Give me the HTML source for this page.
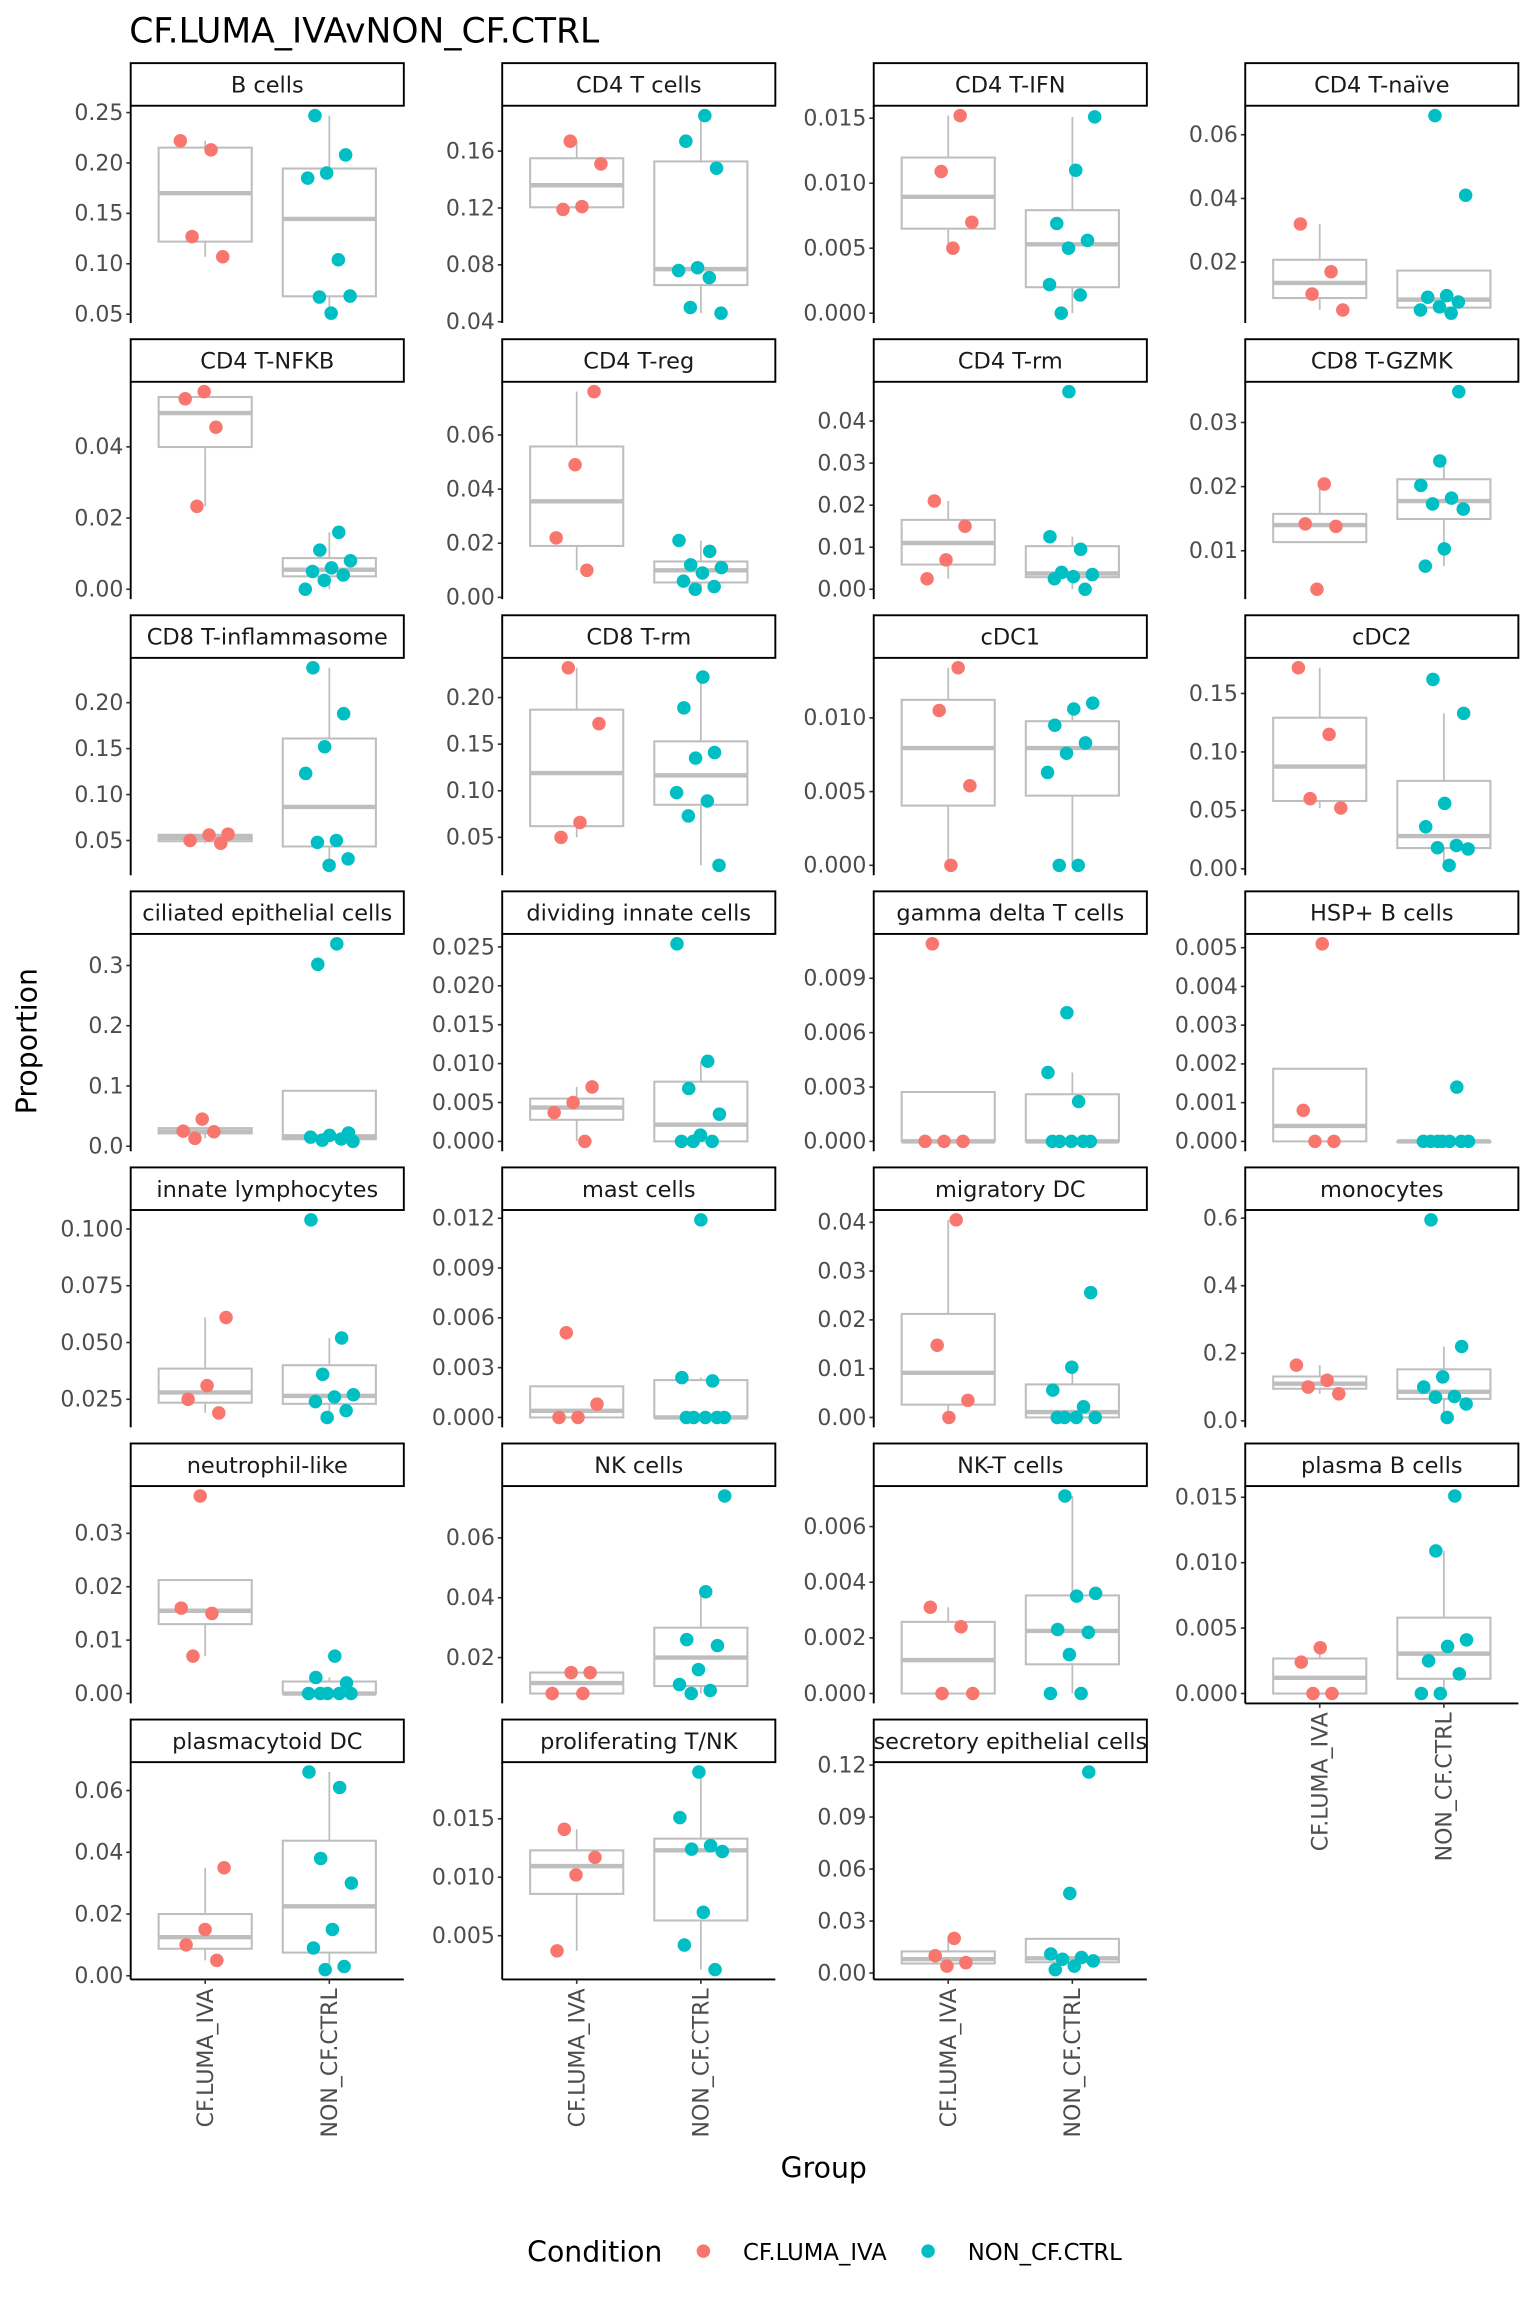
<!DOCTYPE html>
<html><head><meta charset="utf-8">
<style>
html,body{margin:0;padding:0;background:#fff;}
svg{display:block;font-family:"DejaVu Sans","Liberation Sans",sans-serif;}
</style></head>
<body>
<svg id="chart" width="1536" height="2304" viewBox="0 0 1046 1569" xmlns="http://www.w3.org/2000/svg">
<rect x="0" y="0" width="1046" height="1569" fill="#fff"/>
<text x="88" y="29" font-size="23.5" fill="#000">CF.LUMA_IVAvNON_CF.CTRL</text>
<text transform="translate(25,709) rotate(-90)" text-anchor="middle" font-size="19.3" fill="#000">Proportion</text>
<text x="561" y="1483" text-anchor="middle" font-size="19.3" fill="#000">Group</text>
<g>
<text x="359" y="1540" font-size="19.3" fill="#000">Condition</text>
<circle cx="479" cy="1533" r="4.6" fill="#F8766D"/>
<text x="506" y="1539" font-size="15.5" fill="#000">CF.LUMA_IVA</text>
<circle cx="632" cy="1533" r="4.6" fill="#00BFC4"/>
<text x="659" y="1539" font-size="15.5" fill="#000">NON_CF.CTRL</text>
</g>
<g id="panels"></g>
</svg>
<script>
const panelNames = ["B cells","CD4 T cells","CD4 T-IFN","CD4 T-naïve","CD4 T-NFKB","CD4 T-reg","CD4 T-rm","CD8 T-GZMK","CD8 T-inflammasome","CD8 T-rm","cDC1","cDC2","ciliated epithelial cells","dividing innate cells","gamma delta T cells","HSP+ B cells","innate lymphocytes","mast cells","migratory DC","monocytes","neutrophil-like","NK cells","NK-T cells","plasma B cells","plasmacytoid DC","proliferating T/NK","secretory epithelial cells"];
const groups = ["CF.LUMA_IVA","NON_CF.CTRL"];
const cfValues = [
[0.222,0.213,0.127,0.107],
[0.167,0.151,0.121,0.119],
[0.0152,0.0109,0.0070,0.0050],
[0.032,0.017,0.010,0.005],
[0.0555,0.0535,0.0455,0.0233],
[0.076,0.049,0.022,0.010],
[0.021,0.015,0.007,0.0025],
[0.0204,0.0142,0.0138,0.0040],
[0.057,0.056,0.050,0.047],
[0.232,0.172,0.066,0.050],
[0.0134,0.0105,0.0054,0.0000],
[0.172,0.115,0.060,0.052],
[0.045,0.025,0.024,0.013],
[0.0070,0.0050,0.0037,0.0000],
[0.0109,0,0,0],
[0.0051,0.0008,0,0],
[0.061,0.031,0.025,0.019],
[0.0051,0.0008,0,0],
[0.0405,0.0148,0.0035,0.0000],
[0.165,0.120,0.100,0.080],
[0.037,0.016,0.015,0.007],
[0.015,0.015,0.008,0.008],
[0.0031,0.0024,0,0],
[0.0035,0.0024,0,0],
[0.035,0.015,0.010,0.005],
[0.0141,0.0117,0.0102,0.0037],
[0.020,0.010,0.006,0.004]
];
const nonValues = [
[0.247,0.208,0.190,0.185,0.104,0.067,0.068,0.051],
[0.185,0.167,0.148,0.078,0.076,0.071,0.050,0.046],
[0.0151,0.0110,0.0069,0.0056,0.0050,0.0022,0.0014,0.0000],
[0.066,0.041,0.0095,0.009,0.0075,0.006,0.005,0.004],
[0.016,0.011,0.008,0.006,0.005,0.004,0.0025,0.000],
[0.021,0.017,0.012,0.011,0.009,0.006,0.004,0.003],
[0.047,0.0125,0.0095,0.004,0.0035,0.003,0.0025,0.000],
[0.0348,0.0240,0.0202,0.0182,0.0173,0.0165,0.0103,0.0076],
[0.238,0.188,0.152,0.123,0.050,0.048,0.030,0.023],
[0.222,0.189,0.141,0.135,0.098,0.089,0.073,0.020],
[0.0110,0.0106,0.0095,0.0083,0.0076,0.0063,0.0000,0.0000],
[0.162,0.133,0.056,0.036,0.020,0.018,0.017,0.003],
[0.336,0.302,0.022,0.018,0.015,0.012,0.010,0.008],
[0.0254,0.0103,0.0068,0.0035,0.0008,0.0000,0.0000,0.0000],
[0.0071,0.0038,0.0022,0,0,0,0,0],
[0.0014,0,0,0,0,0,0,0],
[0.104,0.052,0.036,0.027,0.026,0.024,0.020,0.017],
[0.0119,0.0024,0.0022,0,0,0,0,0],
[0.0256,0.0103,0.0056,0.0022,0,0,0,0],
[0.595,0.220,0.130,0.100,0.072,0.070,0.050,0.010],
[0.007,0.003,0.002,0,0,0,0,0],
[0.074,0.042,0.026,0.024,0.016,0.011,0.009,0.008],
[0.0071,0.0036,0.0035,0.0023,0.0022,0.0014,0,0],
[0.0151,0.0109,0.0041,0.0036,0.0025,0.0015,0,0],
[0.066,0.061,0.038,0.030,0.015,0.009,0.003,0.002],
[0.0190,0.0151,0.0127,0.0124,0.0122,0.0070,0.0042,0.0021],
[0.116,0.046,0.011,0.009,0.008,0.007,0.004,0.002]
];
const tickLabels = [
["0.05","0.10","0.15","0.20","0.25"],
["0.04","0.08","0.12","0.16"],
["0.000","0.005","0.010","0.015"],
["0.02","0.04","0.06"],
["0.00","0.02","0.04"],
["0.00","0.02","0.04","0.06"],
["0.00","0.01","0.02","0.03","0.04"],
["0.01","0.02","0.03"],
["0.05","0.10","0.15","0.20"],
["0.05","0.10","0.15","0.20"],
["0.000","0.005","0.010"],
["0.00","0.05","0.10","0.15"],
["0.0","0.1","0.2","0.3"],
["0.000","0.005","0.010","0.015","0.020","0.025"],
["0.000","0.003","0.006","0.009"],
["0.000","0.001","0.002","0.003","0.004","0.005"],
["0.025","0.050","0.075","0.100"],
["0.000","0.003","0.006","0.009","0.012"],
["0.00","0.01","0.02","0.03","0.04"],
["0.0","0.2","0.4","0.6"],
["0.00","0.01","0.02","0.03"],
["0.02","0.04","0.06"],
["0.000","0.002","0.004","0.006"],
["0.000","0.005","0.010","0.015"],
["0.00","0.02","0.04","0.06"],
["0.005","0.010","0.015"],
["0.00","0.03","0.06","0.09","0.12"]
];

const NS = "http://www.w3.org/2000/svg";
const root = document.getElementById('panels');
const COLX = [89,342,595,848], PW = 186, STRIP_H = 29, PH = 148, ROW0 = 43, ROWSTEP = 188;
const COLORS = ["#F8766D","#00BFC4"];
function mk(tag, attrs, parent){
  const e = document.createElementNS(NS, tag);
  for (const k in attrs) e.setAttribute(k, attrs[k]);
  parent.appendChild(e);
  return e;
}
function quant(sorted, p){
  const idx = (sorted.length-1)*p, lo = Math.floor(idx), hi = Math.ceil(idx);
  return sorted[lo] + (sorted[hi]-sorted[lo])*(idx-lo);
}
function boxStats(vals){
  const s = vals.slice().sort((a,b)=>a-b);
  const q1 = quant(s,0.25), med = quant(s,0.5), q3 = quant(s,0.75), iqr = q3-q1;
  const inside = s.filter(v => v >= q1-1.5*iqr && v <= q3+1.5*iqr);
  return {q1, med, q3, lo: Math.min(...inside), hi: Math.max(...inside)};
}
function slug(s){ return s.toLowerCase().replace(/[^a-z0-9]+/g,'-').replace(/^-|-$/g,''); }

panelNames.forEach((name, p) => {
  const col = p % 4, row = Math.floor(p / 4);
  const x0 = COLX[col], sy = ROW0 + row*ROWSTEP, y0 = sy + STRIP_H, y1 = y0 + PH;
  const g = mk('g', {}, root);
  
  
  const all = cfValues[p].concat(nonValues[p]);
  const dmin = Math.min(...all), dmax = Math.max(...all), R = (dmax - dmin) || 1;
  const lo = dmin - 0.05*R, hi = dmax + 0.05*R;
  const yScale = v => y1 - (v - lo)/(hi - lo)*PH;
  const xScale = gi => x0 + (gi + 0.6)/2.2*PW;
  const unit = PW/2.2;

  const cid = 'clip' + p;
  const cp = mk('clipPath', {id: cid}, g);
  mk('rect', {x: x0, y: sy, width: PW, height: STRIP_H}, cp);
  const strip = mk('rect', {x: x0, y: sy, width: PW, height: STRIP_H, fill: '#fff', stroke: '#000', 'stroke-width': 1.3}, g);
  
  
  const st = mk('text', {x: x0 + PW/2, y: sy + 20, 'text-anchor': 'middle', 'font-size': 15.3, fill: '#1a1a1a', 'clip-path': 'url(#' + cid + ')'}, g);
  st.textContent = name;
  
  

  tickLabels[p].forEach(t => {
    const v = parseFloat(t), y = yScale(v);
    const tk = mk('line', {x1: x0 - 3, x2: x0, y1: y, y2: y, stroke: '#333', 'stroke-width': 1.1}, g);
    
    
    const tl = mk('text', {x: x0 - 5, y: y + 5, 'text-anchor': 'end', 'font-size': 15, fill: '#4d4d4d'}, g);
    tl.textContent = t;
    
    
  });

  [cfValues[p], nonValues[p]].forEach((vals, gi) => {
    const b = boxStats(vals), cx = xScale(gi), bw = 0.75*unit;
    const wl = mk('line', {x1: cx, x2: cx, y1: yScale(b.hi), y2: yScale(b.lo), stroke: '#bebebe', 'stroke-width': 1.2}, g);
    
    
    const br = mk('rect', {x: cx - bw/2, y: yScale(b.q3), width: bw, height: Math.max(0.5, yScale(b.q1) - yScale(b.q3)), fill: '#fff', stroke: '#bebebe', 'stroke-width': 1.4}, g);
    
    
    const ml = mk('line', {x1: cx - bw/2, x2: cx + bw/2, y1: yScale(b.med), y2: yScale(b.med), stroke: '#bebebe', 'stroke-width': 3}, g);
    
    
  });
  [cfValues[p], nonValues[p]].forEach((vals, gi) => {
    vals.forEach((v, i) => {
      const j = (((i*0.618 + p*0.37 + gi*0.21) % 1) - 0.5) * 0.4 * unit;
      const c = mk('circle', {cx: xScale(gi) + j, cy: yScale(v), r: 4.6, fill: COLORS[gi]}, g);
      
      
    });
  });

  const ax = mk('line', {x1: x0, x2: x0, y1: y0, y2: y1, stroke: '#000', 'stroke-width': 1.3}, g);
  
  

  const hasX = (row === 6) || (row === 5 && col === 3);
  if (hasX) {
    const bx = mk('line', {x1: x0, x2: x0 + PW, y1: y1, y2: y1, stroke: '#000', 'stroke-width': 1.3}, g);
    
    
    groups.forEach((gname, gi) => {
      const cx = xScale(gi);
      const tk = mk('line', {x1: cx, x2: cx, y1: y1, y2: y1 + 3, stroke: '#333', 'stroke-width': 1.1}, g);
      
      
      const tl = mk('text', {transform: 'translate(' + (cx + 5.3) + ',' + (y1 + 6) + ') rotate(-90)', 'text-anchor': 'end', 'font-size': 15, fill: '#4d4d4d'}, g);
      tl.textContent = gname;
      
      
    });
  }
});
</script>
</body></html>
